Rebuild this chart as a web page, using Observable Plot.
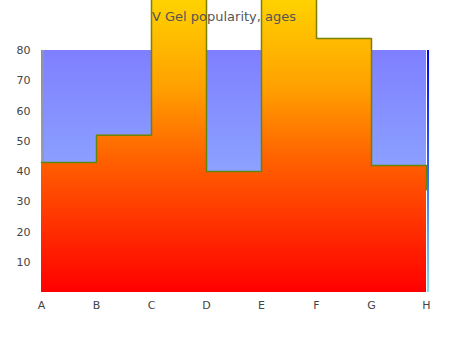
<!DOCTYPE html>
<html>
<head>
<meta charset="utf-8">
<script src="https://cdn.jsdelivr.net/npm/d3@7"></script>
<script src="https://cdn.jsdelivr.net/npm/@observablehq/plot@0.6"></script>
<style>
  html, body { margin: 0; padding: 0; background: #fff; }
  #chart { width: 450px; height: 350px; }
</style>
</head>
<body>
<div id="chart"></div>
<script>
const categories = ["A", "B", "C", "D", "E", "F", "G", "H"];
const popularity = [43, 52, 110, 40, 110, 84, 42, 34];
const yTicks = [10, 20, 30, 40, 50, 60, 70, 80];
const backgroundTop = 80;
const title = "V Gel popularity, ages";

const data = categories.map((c, i) => ({cat: c, value: popularity[i]}));

const chart = Plot.plot({
  width: 450,
  height: 350,
  marginLeft: 38,
  marginRight: 21,
  marginTop: 50,
  marginBottom: 58,
  style: {fontFamily: "DejaVu Sans, sans-serif", fontSize: "11px", color: "#444", background: "#fff"},
  x: {type: "point", domain: categories, padding: 0, label: null, tickSize: 0, tickPadding: 9},
  y: {domain: [0, 80], ticks: yTicks, label: null, tickSize: 0, tickPadding: 8},
  marks: [
    Plot.areaY(categories, {x: d => d, y: backgroundTop, fill: "url(#bgGrad)"}),
    Plot.ruleY(yTicks, {x1: "A", x2: "H", stroke: "#e4e4ee", strokeWidth: 1.5}),
    Plot.ruleY([0], {x1: "A", x2: "H", stroke: "#999", strokeWidth: 1.5}),
    Plot.ruleX(["A"], {y1: 0, y2: backgroundTop, stroke: "#999", strokeWidth: 1.5, dx: 1.5}),
    Plot.ruleX(["H"], {y1: 0, y2: backgroundTop, stroke: "url(#rightGrad)", strokeWidth: 2, dx: 1.5}),
    Plot.areaY(data, {x: "cat", y: "value", curve: "step-after", fill: "url(#areaGrad)"}),
    Plot.lineY(data, {x: "cat", y: "value", curve: "step-after", stroke: "url(#lineGrad)", strokeWidth: 1.5}),
    Plot.text([title], {frameAnchor: "top", dx: -10, dy: -39, text: d => d, fontSize: 13, fill: "#555"})
  ]
});

const svg = d3.select(chart);
const defs = svg.insert("defs", ":first-child");
function grad(id, stops, y1, y2) {
  const g = defs.append("linearGradient").attr("id", id)
    .attr("gradientUnits", "userSpaceOnUse")
    .attr("x1", 0).attr("x2", 0).attr("y1", y1).attr("y2", y2);
  stops.forEach(([o, c]) => g.append("stop").attr("offset", o).attr("stop-color", c));
}
grad("areaGrad", [[0, "#ffd200"], [0.3, "#ffa000"], [0.55, "#ff6000"], [1, "#ff0000"]], 0, 292);
grad("bgGrad", [[0, "#7f7fff"], [1, "#99c4ff"]], 50, 292);
grad("lineGrad", [[0, "#808000"], [1, "#4c8a10"]], 0, 292);
grad("rightGrad", [[0, "#0000ee"], [0.5, "#3366ff"], [1, "#88dde8"]], 50, 292);

document.getElementById("chart").appendChild(chart);
</script>
</body>
</html>
